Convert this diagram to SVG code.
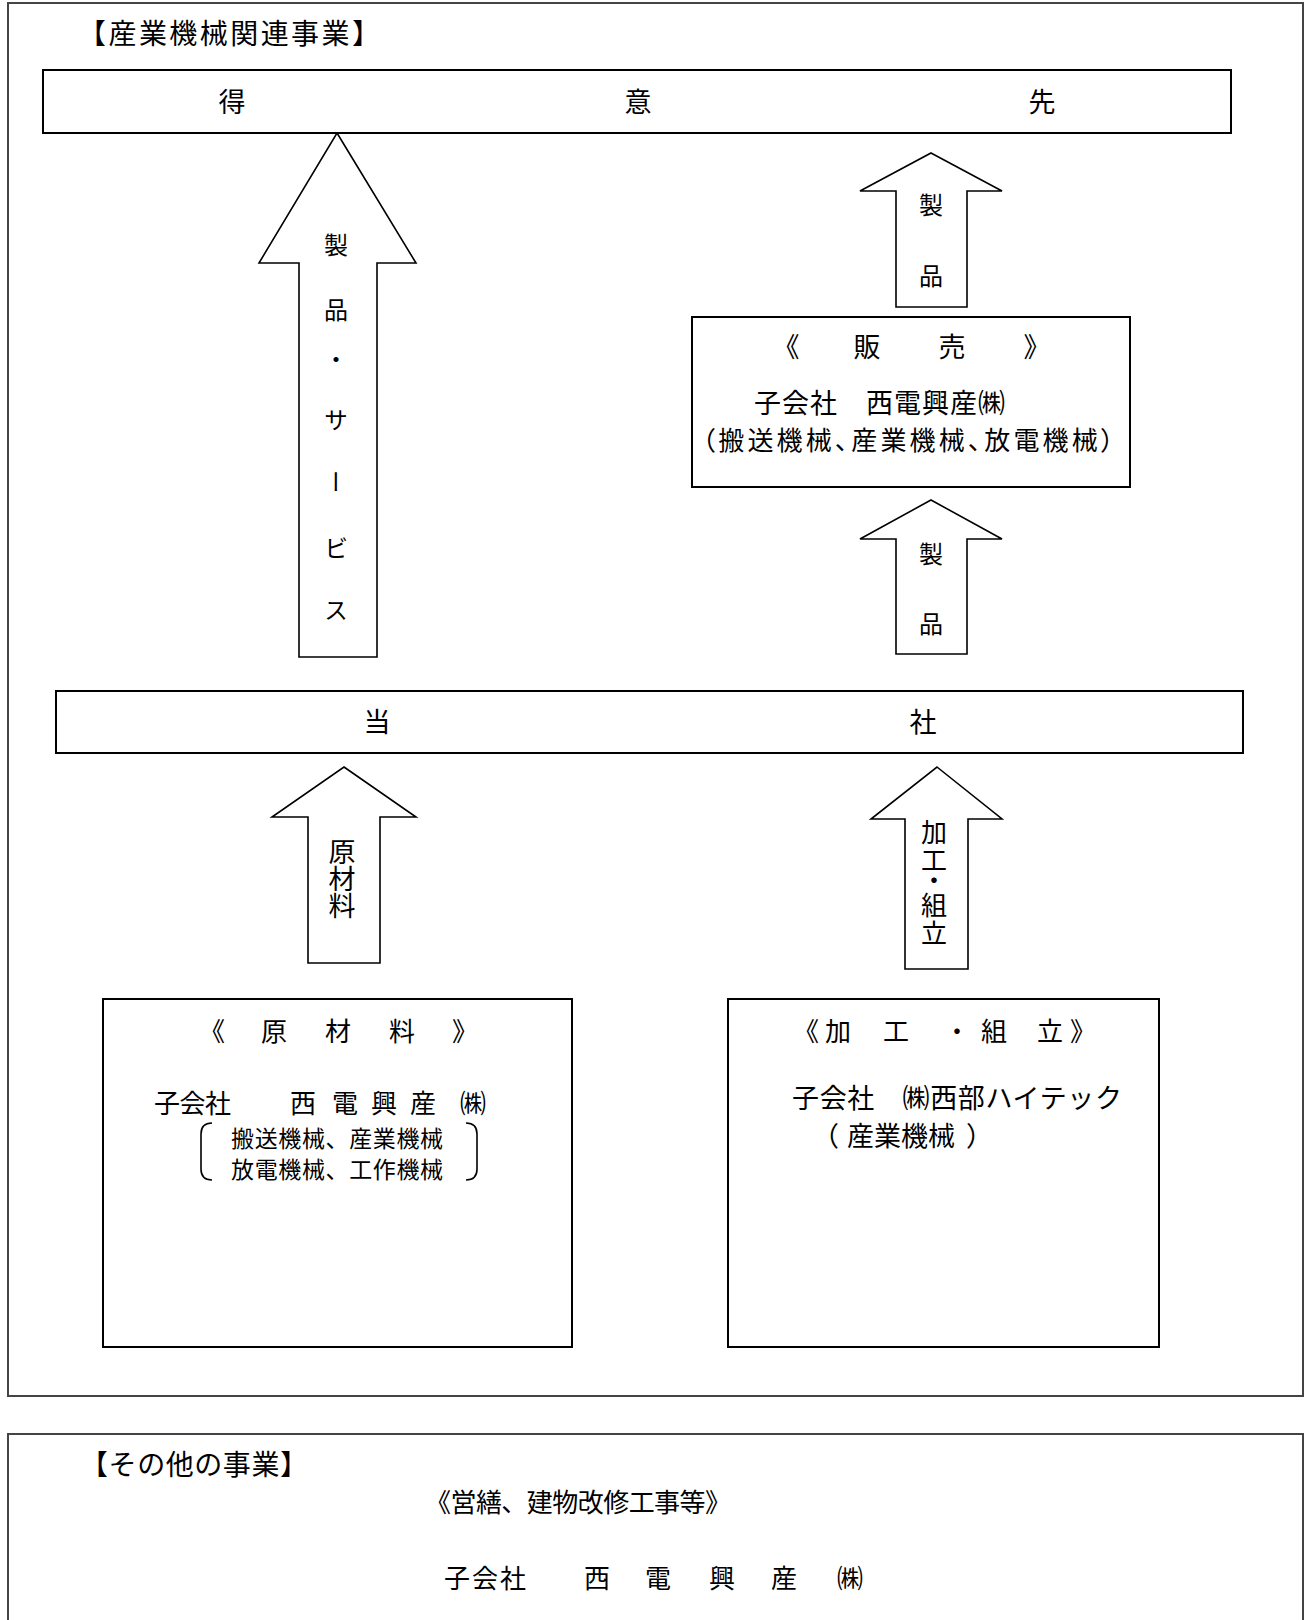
<svg xmlns="http://www.w3.org/2000/svg" width="1310" height="1620" viewBox="0 0 1310 1620">
<style>
text{font-family:"Noto Sans CJK JP","Noto Sans",sans-serif;fill:#000;dominant-baseline:central}
.c{text-anchor:middle}
.v{writing-mode:vertical-rl;text-anchor:middle}
.frame{fill:none;stroke:#444;stroke-width:2}
.box{fill:#fff;stroke:#000;stroke-width:2}
.arr{fill:#fff;stroke:#000;stroke-width:1.6;stroke-linejoin:miter}
.br{fill:none;stroke:#000;stroke-width:1.6}
</style>
<rect width="1310" height="1620" fill="#fff"/>
<g id="frame-main">
<rect class="frame" x="8" y="3" width="1295" height="1393"/>
<text x="78" y="32" font-size="28" textLength="302" lengthAdjust="spacing">【産業機械関連事業】</text>
</g>
<g id="frame-other">
<path class="frame" d="M8 1640 V1434 H1303 V1640"/>
<text x="80" y="1463" font-size="28" textLength="228" lengthAdjust="spacing">【その他の事業】</text>
<text x="425" y="1500" font-size="26" textLength="306" lengthAdjust="spacing">《営繕、建物改修工事等》</text>
<text x="444" y="1576" font-size="26" textLength="82" lengthAdjust="spacing">子会社</text>
<text class="c" x="597" y="1576" font-size="26">西</text>
<text class="c" x="658" y="1576" font-size="26">電</text>
<text class="c" x="722" y="1576" font-size="26">興</text>
<text class="c" x="784" y="1576" font-size="26">産</text>
<text class="c" x="850" y="1576" font-size="26">㈱</text>
</g>
<g id="connectors">
<g id="arrow-service">
<polygon class="arr" points="337,133 416,263 377,263 377,657 299,657 299,263 259,263"/>
<text class="v" x="336" y="245" font-size="24">製</text>
<text class="v" x="336" y="310" font-size="24">品</text>
<text class="v" x="336" y="359" font-size="24">・</text>
<text class="v" x="336" y="420" font-size="24">サ</text>
<text class="v" x="336" y="482" font-size="24">ー</text>
<text class="v" x="336" y="548" font-size="24">ビ</text>
<text class="v" x="336" y="610" font-size="24">ス</text>
</g>
<g id="arrow-sales-product">
<polygon class="arr" points="931,153 1002,191 967,191 967,307 896,307 896,191 860,191"/>
<text class="c" x="931" y="203" font-size="24">製</text>
<text class="c" x="931" y="274" font-size="24">品</text>
</g>
<g id="arrow-company-product">
<polygon class="arr" points="931,500 1002,539 967,539 967,654 896,654 896,539 860,539"/>
<text class="c" x="931" y="552" font-size="24">製</text>
<text class="c" x="931" y="622" font-size="24">品</text>
</g>
<g id="arrow-material">
<polygon class="arr" points="344,767 416,817 380,817 380,963 308,963 308,817 272,817"/>
<text class="v" x="342" y="879" font-size="27">原材料</text>
</g>
<g id="arrow-assembly">
<polygon class="arr" points="937,767 1002,819 968,819 968,969 905,969 905,819 871,819"/>
<text class="v" x="934" y="832" font-size="26">加</text>
<text class="v" x="934" y="860" font-size="26">工</text>
<text class="v" x="934" y="880" font-size="26">・</text>
<text class="v" x="934" y="905" font-size="26">組</text>
<text class="v" x="934" y="933" font-size="26">立</text>
</g>
</g>
<g id="node-customer">
<rect class="box" x="43" y="70" width="1188" height="63"/>
<text class="c" x="232" y="100" font-size="27">得</text>
<text class="c" x="638" y="100" font-size="27">意</text>
<text class="c" x="1042" y="100" font-size="27">先</text>
</g>
<g id="node-sales">
<rect class="box" x="692" y="317" width="438" height="170"/>
<text class="c" x="786" y="345" font-size="27">《</text>
<text class="c" x="867" y="345" font-size="27">販</text>
<text class="c" x="952" y="345" font-size="27">売</text>
<text class="c" x="1037" y="345" font-size="27">》</text>
<text x="754" y="401" font-size="27" textLength="251" lengthAdjust="spacing">子会社　西電興産㈱</text>
<text x="702" y="438" font-size="26" textLength="412" lengthAdjust="spacing" style="font-feature-settings:'palt'">（搬送機械、産業機械、放電機械）</text>
</g>
<g id="node-company">
<rect class="box" x="56" y="691" width="1187" height="62"/>
<text class="c" x="377" y="720" font-size="27">当</text>
<text class="c" x="923" y="720" font-size="27">社</text>
</g>
<g id="node-material">
<rect class="box" x="103" y="999" width="469" height="348"/>
<text class="c" x="212" y="1029" font-size="26">《</text>
<text class="c" x="274" y="1029" font-size="26">原</text>
<text class="c" x="338" y="1029" font-size="26">材</text>
<text class="c" x="402" y="1029" font-size="26">料</text>
<text class="c" x="465" y="1029" font-size="26">》</text>
<text x="154" y="1101" font-size="26" textLength="77" lengthAdjust="spacing">子会社</text>
<text class="c" x="303" y="1101" font-size="26">西</text>
<text class="c" x="345" y="1101" font-size="26">電</text>
<text class="c" x="384" y="1101" font-size="26">興</text>
<text class="c" x="423" y="1101" font-size="26">産</text>
<text class="c" x="473" y="1101" font-size="26">㈱</text>
<path class="br" d="M212 1123 Q201 1123 201 1134 L201 1169 Q201 1180 212 1180"/>
<path class="br" d="M466 1123 Q477 1123 477 1134 L477 1169 Q477 1180 466 1180"/>
<text x="231" y="1137" font-size="23" textLength="212" lengthAdjust="spacing">搬送機械、産業機械</text>
<text x="231" y="1168" font-size="23" textLength="212" lengthAdjust="spacing">放電機械、工作機械</text>
</g>
<g id="node-assembly">
<rect class="box" x="728" y="999" width="431" height="348"/>
<text class="c" x="806" y="1029" font-size="26">《</text>
<text class="c" x="838" y="1029" font-size="26">加</text>
<text class="c" x="896" y="1029" font-size="26">工</text>
<text class="c" x="957" y="1029" font-size="26">・</text>
<text class="c" x="994" y="1029" font-size="26">組</text>
<text class="c" x="1050" y="1029" font-size="26">立</text>
<text class="c" x="1083" y="1029" font-size="26">》</text>
<text x="792" y="1096" font-size="27" textLength="330" lengthAdjust="spacing">子会社　㈱西部ハイテック</text>
<text x="812" y="1134" font-size="27"><tspan>（</tspan><tspan x="847">産業機械</tspan><tspan x="966">）</tspan></text>
</g>
</svg>
